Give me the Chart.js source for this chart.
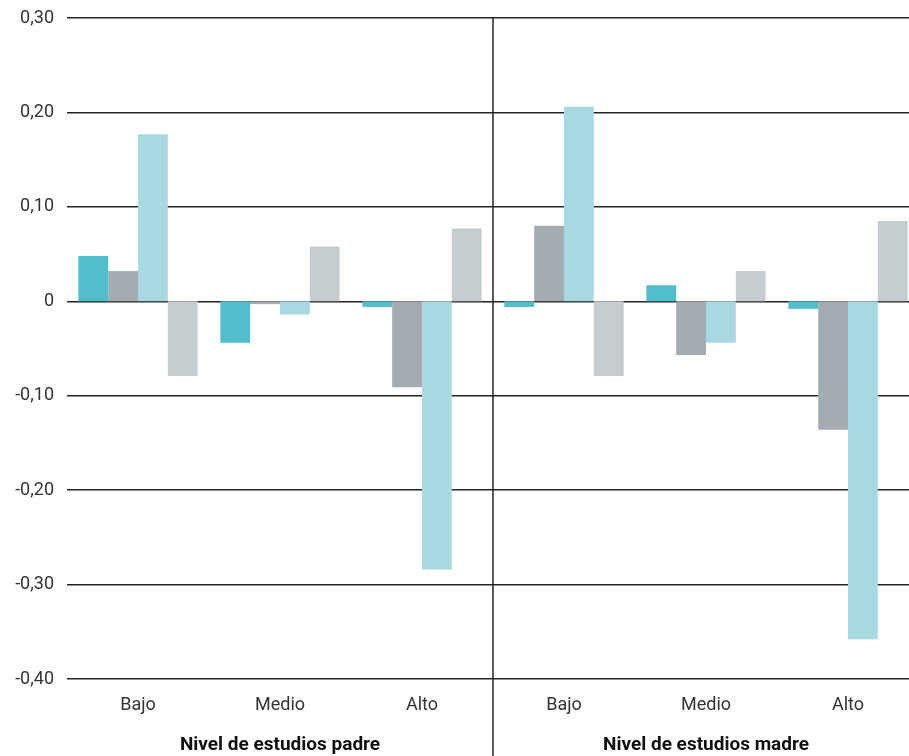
<!DOCTYPE html>
<html>
<head>
<meta charset="utf-8">
<script src="https://cdn.jsdelivr.net/npm/chart.js@4/dist/chart.umd.min.js"></script>
<style>
  html, body { margin: 0; padding: 0; background: #fff; overflow: hidden; }
  #wrap { width: 919px; height: 756px; }
</style>
</head>
<body>
<div id="wrap"><canvas id="chart" width="919" height="756"></canvas></div>
<script>
// --- Data ---
const categories  = ['Bajo', 'Medio', 'Alto', 'Bajo', 'Medio', 'Alto'];
const groupLabels = ['Nivel de estudios padre', 'Nivel de estudios madre'];
const yTickLabels = ['-0,40', '-0,30', '-0,20', '-0,10', '0', '0,10', '0,20', '0,30'];

const serie1 = [ 0.048, -0.044, -0.006, -0.006,  0.017, -0.008];
const serie2 = [ 0.032, -0.003, -0.091,  0.080, -0.057, -0.136];
const serie3 = [ 0.177, -0.014, -0.284,  0.206, -0.044, -0.358];
const serie4 = [-0.079,  0.058,  0.077, -0.079,  0.032,  0.085];

const colors = ['#52BECB', '#A4ACB2', '#A8D9E0', '#C6CDD1'];
const FONT = 'Roboto, "DejaVu Sans", sans-serif';

// --- Separator line + group titles ---
const groupPlugin = {
  id: 'groups',
  afterDraw(chart) {
    const { ctx, chartArea, scales } = chart;
    const x = scales.x;
    const sepX = x.getPixelForValue(2.5);
    ctx.save();
    ctx.strokeStyle = '#222';
    ctx.lineWidth = 1.5;
    ctx.beginPath();
    ctx.moveTo(sepX, chartArea.top);
    ctx.lineTo(sepX, chart.height);
    ctx.stroke();

    ctx.fillStyle = '#111';
    ctx.font = 'bold 19px ' + FONT;
    ctx.textAlign = 'center';
    ctx.textBaseline = 'middle';
    ctx.fillText(groupLabels[0], x.getPixelForValue(1), 745);
    ctx.fillText(groupLabels[1], x.getPixelForValue(4), 745);
    ctx.restore();
  }
};

const ctx = document.getElementById('chart').getContext('2d');
new Chart(ctx, {
  type: 'bar',
  data: {
    labels: categories,
    datasets: [serie1, serie2, serie3, serie4].map((d, i) => ({
      label: 'Serie ' + (i + 1),
      data: d,
      backgroundColor: colors[i],
      borderWidth: 0,
      barPercentage: 1.0,
      categoryPercentage: 0.84
    }))
  },
  options: {
    responsive: false,
    animation: false,
    layout: { padding: { top: 18, right: 0, left: 0, bottom: 0 } },
    plugins: { legend: { display: false }, tooltip: { enabled: false } },
    scales: {
      x: {
        grid: { display: false },
        border: { display: false },
        ticks: { color: '#333', font: { family: FONT, size: 18 }, padding: 8 },
        afterFit: s => { s.height = 77; }
      },
      y: {
        min: -0.4,
        max: 0.3,
        z: 1,
        grid: { color: '#222', lineWidth: 1.5, drawTicks: false },
        border: { display: false },
        ticks: {
          stepSize: 0.1,
          padding: 13,
          color: '#333',
          font: { family: FONT, size: 18 },
          callback: (v, i) => yTickLabels[i]
        },
        afterFit: s => { s.width = 67; s.paddingTop = 0; s.paddingBottom = 0; }
      }
    }
  },
  plugins: [groupPlugin]
});
</script>
</body>
</html>
